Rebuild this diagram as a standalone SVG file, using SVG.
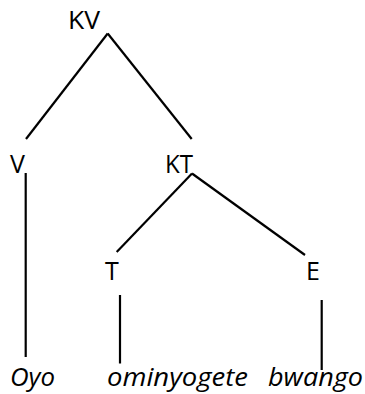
<svg xmlns="http://www.w3.org/2000/svg" width="365" height="394" viewBox="0 0 365 394">
<style>
.lbl{font-family:"Open Sans","DejaVu Sans",sans-serif;font-size:25px;fill:#000}
.word{font-family:"Open Sans","DejaVu Sans",sans-serif;font-size:25px;font-style:italic;fill:#000}
.edge{stroke:#000;stroke-width:2.2;fill:none;stroke-linecap:butt}
</style>
<rect width="365" height="394" fill="#fff"/>
<g id="connectors">
<line class="edge" x1="107.7" y1="33.5" x2="26" y2="139"/>
<line class="edge" x1="107.7" y1="33.5" x2="191.7" y2="139"/>
<line class="edge" x1="25.7" y1="173" x2="25.7" y2="357"/>
<line class="edge" x1="192" y1="173.5" x2="116.7" y2="252"/>
<line class="edge" x1="192" y1="173.5" x2="305" y2="255"/>
<line class="edge" x1="120" y1="295" x2="120" y2="363.5"/>
<line class="edge" x1="321.7" y1="300" x2="321.7" y2="370"/>
</g>
<g id="node-KV"><text class="lbl" x="68" y="29" textLength="32" lengthAdjust="spacingAndGlyphs">KV</text></g>
<g id="node-V"><text class="lbl" x="10" y="173">V</text></g>
<g id="node-KT"><text class="lbl" x="165" y="173" textLength="28" lengthAdjust="spacingAndGlyphs">KT</text></g>
<g id="node-T"><text class="lbl" x="105" y="280">T</text></g>
<g id="node-E"><text class="lbl" x="306" y="280">E</text></g>
<g id="node-Oyo"><text class="word" x="10" y="386" textLength="45" lengthAdjust="spacingAndGlyphs">Oyo</text></g>
<g id="node-ominyogete"><text class="word" x="107" y="386" textLength="141" lengthAdjust="spacingAndGlyphs">ominyogete</text></g>
<g id="node-bwango"><text class="word" x="268" y="386" textLength="95" lengthAdjust="spacingAndGlyphs">bwango</text></g>
</svg>
